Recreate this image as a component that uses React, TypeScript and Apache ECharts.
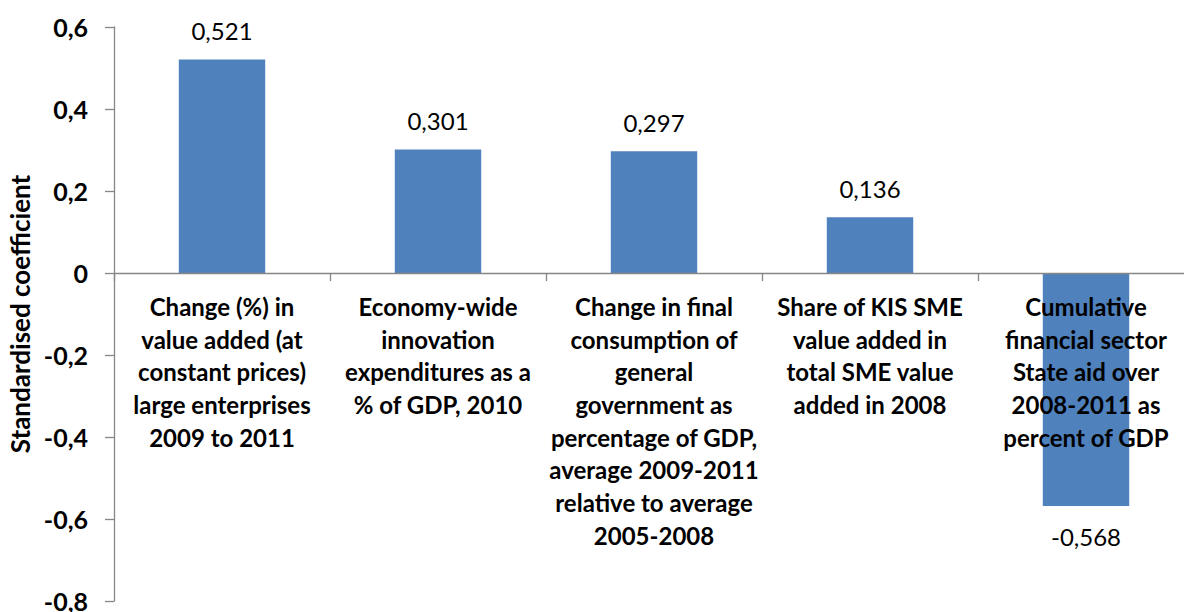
import React, { useEffect, useRef } from "react";
import * as echarts from "echarts";

const categories = [
  "Change (%) in\nvalue added (at\nconstant prices)\nlarge enterprises\n2009 to 2011",
  "Economy-wide\ninnovation\nexpenditures as a\n% of GDP, 2010",
  "Change in final\nconsumption of\ngeneral\ngovernment as\npercentage of GDP,\naverage 2009-2011\nrelative to average\n2005-2008",
  "Share of KIS SME\nvalue added in\ntotal SME value\nadded in 2008",
  "Cumulative\nfinancial sector\nState aid over\n2008-2011 as\npercent of GDP",
];
const values = [0.521, 0.301, 0.297, 0.136, -0.568];
const yAxisName = "Standardised coefficient";
const yMin = -0.8;
const yMax = 0.6;
const yStep = 0.2;

const fmt = (v: number) => v.toFixed(3).replace(".", ",");
const fmtTick = (v: number) => {
  const r = Math.round(v * 10) / 10;
  return r === 0 ? "0" : r.toFixed(1).replace(".", ",");
};

const FONT = "Lato";
const GRID_TOP = 27;
const GRID_BOTTOM = 11;
const H = 612;

export default function App() {
  const ref = useRef<HTMLDivElement>(null);
  useEffect(() => {
    document.body.style.margin = "0";
    const chart = echarts.init(ref.current!, null, { renderer: "svg" });
    const plotH = H - GRID_TOP - GRID_BOTTOM;
    // move the category axis (line, ticks, labels) up to the value 0
    const zeroOffset = -plotH * ((0 - yMin) / (yMax - yMin));
    chart.setOption({
      animation: false,
      grid: {
        left: 114,
        right: -10,
        top: GRID_TOP,
        bottom: GRID_BOTTOM,
        containLabel: false,
        outerBoundsMode: "none",
      },
      xAxis: {
        type: "category",
        data: categories,
        z: 10,
        position: "bottom",
        offset: zeroOffset,
        axisLine: { onZero: false, lineStyle: { color: "#868686", width: 1.3 } },
        axisTick: { show: true, length: 8, lineStyle: { color: "#868686", width: 1.3 } },
        axisLabel: {
          interval: 0,
          margin: 17,
          fontFamily: FONT,
          fontWeight: "bold",
          fontSize: 24,
          lineHeight: 32.7,
          color: "#000",
          align: "center",
        },
      },
      yAxis: {
        type: "value",
        min: yMin,
        max: yMax,
        interval: yStep,
        name: yAxisName,
        nameLocation: "middle",
        nameGap: 77,
        nameTextStyle: { fontFamily: FONT, fontWeight: "bold", fontSize: 26, color: "#000" },
        splitLine: { show: false },
        axisLine: { show: true, lineStyle: { color: "#868686", width: 1.3 } },
        axisTick: { show: true, length: 9, lineStyle: { color: "#868686", width: 1.3 } },
        axisLabel: {
          margin: 26,
          fontFamily: FONT,
          fontWeight: "bold",
          fontSize: 25,
          color: "#000",
          formatter: (v: number) => fmtTick(v),
        },
      },
      series: [
        {
          type: "bar",
          barCategoryGap: "60%",
          itemStyle: { color: "#4F81BD" },
          data: values.map((v) => ({
            value: v,
            label: {
              show: true,
              position: v < 0 ? "bottom" : "top",
              distance: v < 0 ? 19 : 17,
              formatter: () => fmt(v),
              fontFamily: FONT,
              fontSize: 24,
              color: "#000",
            },
          })),
        },
      ],
    });
    return () => chart.dispose();
  }, []);
  return <div ref={ref} style={{ width: 1184, height: 612 }} />;
}
